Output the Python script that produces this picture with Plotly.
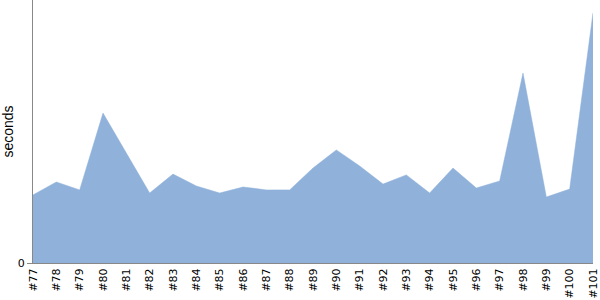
import plotly.graph_objects as go

builds = ["#77", "#78", "#79", "#80", "#81", "#82", "#83", "#84", "#85", "#86",
          "#87", "#88", "#89", "#90", "#91", "#92", "#93", "#94", "#95", "#96",
          "#97", "#98", "#99", "#100", "#101"]
seconds = [25.9, 30.8, 27.8, 57.0, 41.8, 26.6, 33.8, 29.3, 26.6, 28.9,
           27.8, 27.8, 36.1, 43.0, 36.9, 30.0, 33.5, 26.6, 36.1, 28.5,
           31.2, 72.2, 25.1, 28.1, 95.1]
y_max = 100

x_idx = list(range(len(builds)))

FONT = "DejaVu Sans"

fig = go.Figure()
fig.add_trace(go.Scatter(
    x=x_idx, y=seconds, mode="lines", fill="tozeroy",
    line=dict(color="#8fb1da", width=0.5), fillcolor="#8fb1da",
    hoverinfo="skip", showlegend=False,
))

fig.update_layout(
    width=600, height=300,
    margin=dict(l=33, r=5, t=0, b=37),
    paper_bgcolor="white", plot_bgcolor="white",
    font=dict(family=FONT, size=10, color="black"),
    xaxis=dict(
        range=[0, len(builds) - 1], tickvals=x_idx, ticktext=builds,
        tickangle=-90, showgrid=False, zeroline=False,
        showline=True, linecolor="#888888", linewidth=1,
        ticks="", tickfont=dict(family=FONT, size=11),
        ticklabeloverflow="allow",
    ),
    yaxis=dict(
        range=[0, y_max], tickvals=[0], ticktext=["0"],
        showgrid=False, zeroline=False,
        showline=True, linecolor="#888888", linewidth=1,
        ticks="outside", ticklen=5, tickcolor="#888888",
        tickfont=dict(family=FONT, size=11),
        title=dict(text="seconds", font=dict(family="Liberation Sans", size=14), standoff=6),
    ),
)

fig.write_html("out.html")
